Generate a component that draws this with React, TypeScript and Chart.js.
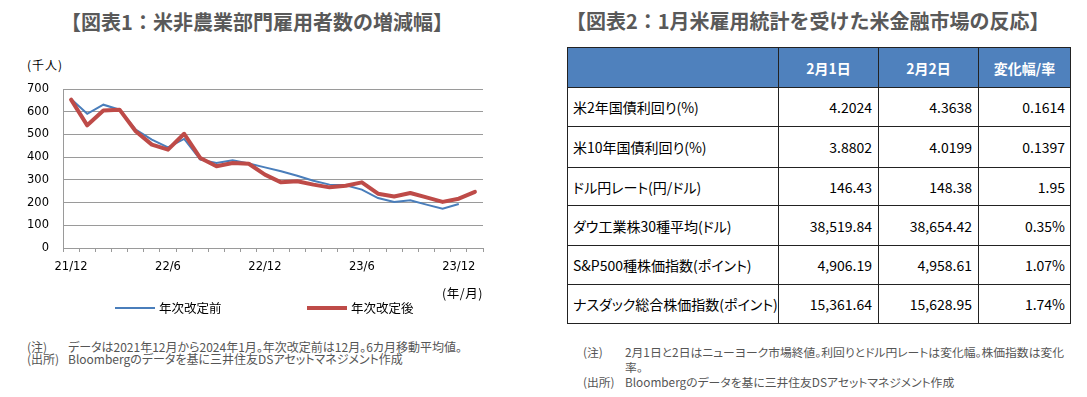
import React, { useEffect, useRef } from "react";
import { Chart, registerables } from "chart.js";

Chart.register(...registerables);

const categories = [
  "21/12", "22/1", "22/2", "22/3", "22/4", "22/5", "22/6", "22/7", "22/8", "22/9", "22/10", "22/11",
  "22/12", "23/1", "23/2", "23/3", "23/4", "23/5", "23/6", "23/7", "23/8", "23/9", "23/10", "23/11",
  "23/12", "24/1",
];
const beforeRevision = [
  656, 591, 631, 609, 521, 477, 443, 480, 389, 374, 386, 372,
  355, 338, 318, 296, 279, 276, 257, 220, 203, 210, 191, 173, 194,
];
const afterRevision = [
  653, 540, 605, 609, 514, 455, 433, 503, 396, 360, 374, 371,
  323, 289, 294, 279, 267, 274, 289, 239, 227, 242, 223, 203, 217, 247,
];
const seriesNames = ["年次改定前", "年次改定後"];
const yTicks = [0, 100, 200, 300, 400, 500, 600, 700];

const tableHeader = ["", "2月1日", "2月2日", "変化幅/率"];
const tableRows = [
  "米2年国債利回り(%)",
  "米10年国債利回り(%)",
  "ドル円レート(円/ドル)",
  "ダウ工業株30種平均(ドル)",
  "S&P500種株価指数(ポイント)",
  "ナスダック総合株価指数(ポイント)",
];
const feb1 = ["4.2024", "3.8802", "146.43", "38,519.84", "4,906.19", "15,361.64"];
const feb2 = ["4.3638", "4.0199", "148.38", "38,654.42", "4,958.61", "15,628.95"];
const changes = ["0.1614", "0.1397", "1.95", "0.35%", "1.07%", "1.74%"];

const JP = '"Noto Sans CJK JP", "Noto Sans", sans-serif';
const TICKFONT = '"DejaVu Sans", "Noto Sans CJK JP", sans-serif';

function LineChart() {
  const ref = useRef<HTMLCanvasElement | null>(null);
  useEffect(() => {
    if (!ref.current) return;
    const chart = new Chart(ref.current, {
      type: "line",
      data: {
        labels: categories,
        datasets: [
          {
            label: seriesNames[0],
            data: beforeRevision,
            borderColor: "#4A7EBB",
            backgroundColor: "#4A7EBB",
            borderWidth: 2,
            pointRadius: 0,
            tension: 0,
            order: 1,
          },
          {
            label: seriesNames[1],
            data: afterRevision,
            borderColor: "#BE4B48",
            backgroundColor: "#BE4B48",
            borderWidth: 4,
            pointRadius: 0,
            tension: 0,
            borderJoinStyle: "round",
            borderCapStyle: "round",
            order: 0,
          },
        ],
      },
      options: {
        animation: false,
        responsive: false,
        devicePixelRatio: 1,
        layout: { padding: { left: 0, right: 17, top: 34, bottom: 0 } },
        plugins: { legend: { display: false }, tooltip: { enabled: false } },
        scales: {
          x: {
            type: "category",
            offset: true,
            grid: {
              offset: true,
              drawOnChartArea: false,
              drawTicks: true,
              tickLength: 4,
              color: "#9a9a9a",
            },
            border: { color: "#9a9a9a" },
            ticks: {
              autoSkip: false,
              maxRotation: 0,
              minRotation: 0,
              padding: 8,
              color: "#000",
              font: { family: TICKFONT, size: 11.5 },
              callback: (_v: any, i: number) => (i % 6 === 0 ? categories[i] : ""),
            },
            afterFit: (s: any) => {
              s.height = 47;
            },
          },
          y: {
            min: yTicks[0],
            max: yTicks[yTicks.length - 1],
            ticks: {
              stepSize: 100,
              padding: 14,
              color: "#000",
              font: { family: TICKFONT, size: 11.5 },
            },
            grid: { color: "#9a9a9a", drawTicks: false },
            border: { color: "#9a9a9a" },
            afterFit: (s: any) => {
              s.width = 63;
            },
          },
        },
      },
    } as any);
    return () => chart.destroy();
  }, []);
  return (
    <canvas
      ref={ref}
      width={500}
      height={240}
      style={{ position: "absolute", left: 0, top: 55, width: 500, height: 240 }}
    />
  );
}

const abs = (o: any) => ({ position: "absolute" as const, whiteSpace: "nowrap" as const, ...o });

export default function App() {
  const noteStyle = {
    fontFamily: JP,
    fontSize: 12,
    lineHeight: "12px",
    color: "#555",
    fontFeatureSettings: '"palt"',
  };
  const rightNoteStyle = { ...noteStyle, fontSize: 11.8, lineHeight: "15px" };
  const cellBorder = "1px solid #222";
  const rowH = [40, 39, 41, 38, 40, 39, 39];
  const colW = [211, 100, 100, 92];
  return (
    <div
      style={{
        position: "absolute",
        left: 0,
        top: 0,
        width: 1087,
        height: 397,
        background: "#fff",
        overflow: "hidden",
      }}
    >
      {/* Left title */}
      <div
        style={abs({
          left: 0,
          width: 514,
          top: 10,
          textAlign: "center",
          fontFamily: JP,
          fontWeight: 700,
          fontSize: 20,
          lineHeight: "24px",
          color: "#595959",
        })}
      >
        【図表1：米非農業部門雇用者数の増減幅】
      </div>
      <div style={abs({ left: 27, top: 57, fontFamily: JP, fontSize: 12, lineHeight: "16px", color: "#000", letterSpacing: 1 })}>
        (千人)
      </div>
      <LineChart />
      <div style={abs({ left: 442, top: 285, fontFamily: JP, fontSize: 12.5, lineHeight: "16px", color: "#000", letterSpacing: 0.5 })}>
        (年/月)
      </div>
      {/* Legend */}
      <div style={abs({ left: 115, top: 307, width: 40, height: 2, background: "#4A7EBB" })} />
      <div style={abs({ left: 159, top: 300, fontFamily: JP, fontSize: 12.5, lineHeight: "16px", color: "#000" })}>
        {seriesNames[0]}
      </div>
      <div style={abs({ left: 307, top: 306, width: 40, height: 4, background: "#BE4B48" })} />
      <div style={abs({ left: 351, top: 300, fontFamily: JP, fontSize: 12.5, lineHeight: "16px", color: "#000" })}>
        {seriesNames[1]}
      </div>
      {/* Left notes */}
      <div style={abs({ left: 27, top: 341, ...noteStyle })}>(注)</div>
      <div style={abs({ left: 68, top: 341, ...noteStyle })}>
        データは2021年12月から2024年1月。年次改定前は12月。6カ月移動平均値。
      </div>
      <div style={abs({ left: 27, top: 353, ...noteStyle })}>(出所)</div>
      <div style={abs({ left: 68, top: 353, ...noteStyle })}>
        Bloombergのデータを基に三井住友DSアセットマネジメント作成
      </div>

      {/* Right title */}
      <div
        style={abs({
          left: 566,
          top: 9,
          fontFamily: JP,
          fontWeight: 700,
          fontSize: 20,
          lineHeight: "24px",
          color: "#595959",
        })}
      >
        【図表2：1月米雇用統計を受けた米金融市場の反応】
      </div>
      {/* Table */}
      <table
        style={{
          position: "absolute",
          left: 567,
          top: 47,
          borderCollapse: "collapse",
          tableLayout: "fixed",
          width: 503,
          fontFamily: JP,
          fontSize: 14,
          color: "#000",
        }}
      >
        <colgroup>
          {colW.map((w, i) => (
            <col key={i} style={{ width: w }} />
          ))}
        </colgroup>
        <tbody>
          <tr style={{ height: rowH[0] }}>
            {tableHeader.map((h, i) => (
              <td
                key={i}
                style={{
                  border: cellBorder,
                  background: "#4F81BD",
                  color: "#fff",
                  fontWeight: 700,
                  textAlign: "center",
                  padding: 0,
                }}
              >
                {h}
              </td>
            ))}
          </tr>
          {tableRows.map((r, i) => (
            <tr key={i} style={{ height: rowH[i + 1] }}>
              <td
                style={{
                  border: cellBorder,
                  padding: "0 0 0 5px",
                  textAlign: "left",
                  whiteSpace: "nowrap",
                  fontFeatureSettings: '"palt"',
                }}
              >
                {r}
              </td>
              <td style={{ border: cellBorder, padding: "0 6px 0 0", textAlign: "right", whiteSpace: "nowrap" }}>{feb1[i]}</td>
              <td style={{ border: cellBorder, padding: "0 6px 0 0", textAlign: "right", whiteSpace: "nowrap" }}>{feb2[i]}</td>
              <td style={{ border: cellBorder, padding: "0 5px 0 0", textAlign: "right", whiteSpace: "nowrap" }}>{changes[i]}</td>
            </tr>
          ))}
        </tbody>
      </table>
      {/* Right notes */}
      <div style={abs({ left: 583, top: 344, ...rightNoteStyle })}>(注)</div>
      <div style={abs({ left: 625, top: 344, ...rightNoteStyle })}>
        2月1日と2日はニューヨーク市場終値。利回りとドル円レートは変化幅。株価指数は変化
        <br />
        率。
      </div>
      <div style={abs({ left: 583, top: 374, ...rightNoteStyle })}>(出所)</div>
      <div style={abs({ left: 625, top: 374, ...rightNoteStyle })}>
        Bloombergのデータを基に三井住友DSアセットマネジメント作成
      </div>
    </div>
  );
}
